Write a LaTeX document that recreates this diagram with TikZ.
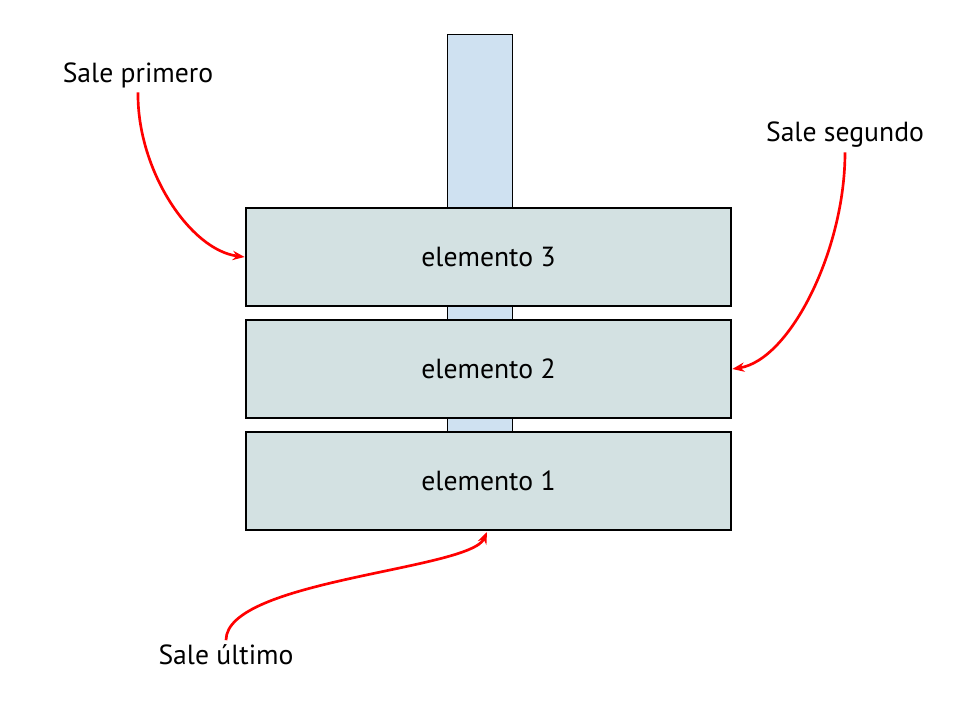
\documentclass[tikz,border=0pt]{standalone}
\usepackage{fontspec}
\setmainfont{PT Sans}
\usetikzlibrary{arrows.meta}
\begin{document}
\begin{tikzpicture}[x=0.75pt,y=-0.75pt,
 box/.style={draw=black,line width=2pt,fill=boxc,minimum width=485*0.75pt,minimum height=98*0.75pt,inner sep=0pt,font=\huge\scshape},
 lab/.style={font=\huge\scshape},
 arr/.style={red,line width=2pt,-{Stealth[length=9pt,width=7pt]}}]
\definecolor{boxc}{HTML}{D3E1E2}
\definecolor{polec}{HTML}{CFE1F1}
\useasboundingbox (0,0) rectangle (960,720);
\node[draw=black,fill=polec,minimum width=65*0.75pt,minimum height=496*0.75pt,inner sep=0pt,line width=0.5pt] (pole) at (479.5,282) {};
\node[box] (e3) at (488.5,257) {elemento 3};
\node[box] (e2) at (488.5,369) {elemento 2};
\node[box] (e1) at (488.5,481) {elemento 1};
\node[lab] (s1) at (138,75) {Sale primero};
\node[lab] (s2) at (845,135) {Sale segundo};
\node[lab] (s3) at (226,655) {Sale último};
\draw[arr] (s1.south) .. controls (137,170) and (190,250) .. (e3.west);
\draw[arr] (s2.south) .. controls (845,250) and (790,360) .. (e2.east);
\draw[arr] (s3.north) .. controls (226,580) and (470,570) .. (487,532);
\end{tikzpicture}
\end{document}
